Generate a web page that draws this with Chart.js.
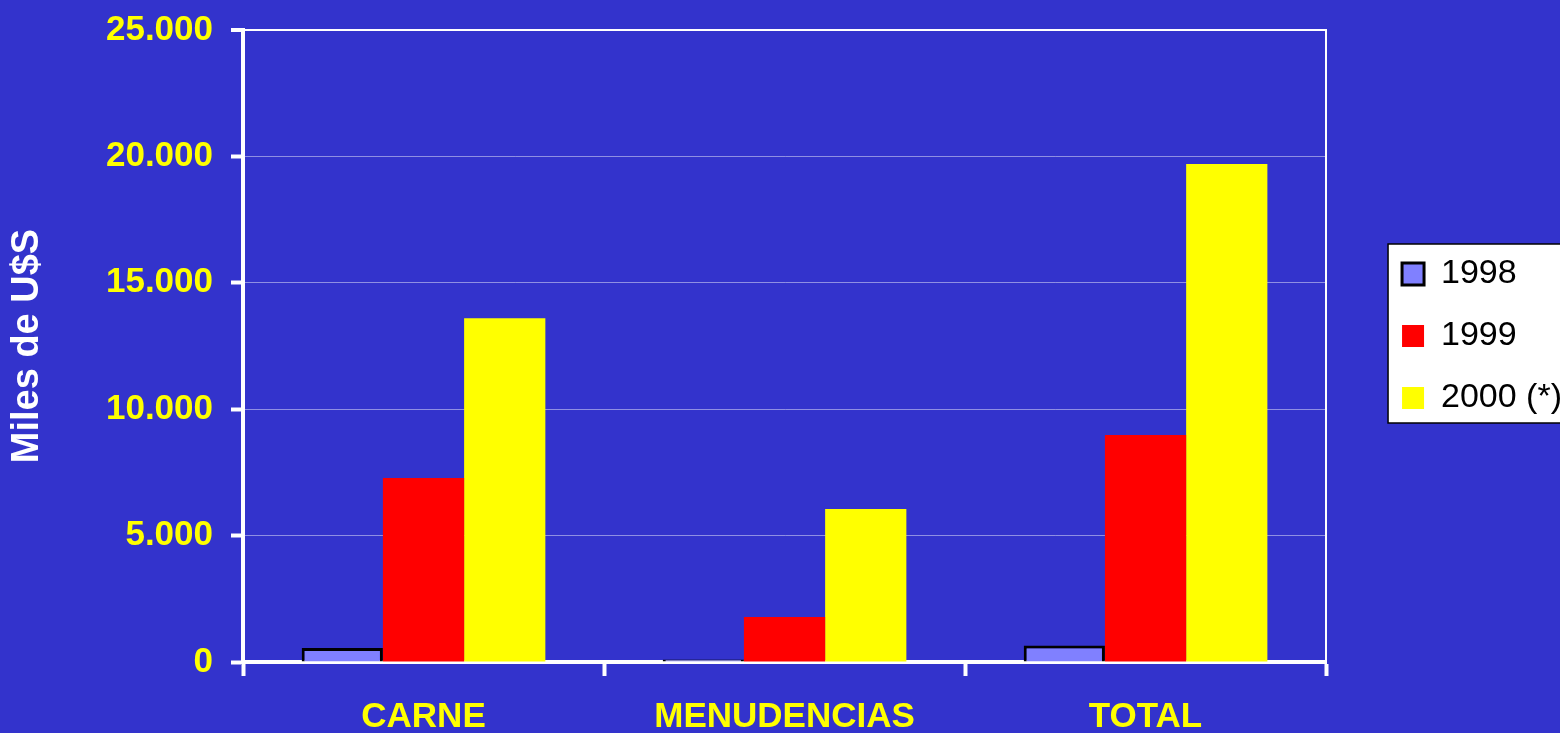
<!DOCTYPE html>
<html>
<head>
<meta charset="utf-8">
<script src="https://cdn.jsdelivr.net/npm/chart.js@4/dist/chart.umd.min.js"></script>
<style>
  html, body { margin: 0; padding: 0; background: #3333CC; overflow: hidden; width: 1560px; height: 733px; }
  canvas { display: block; background: #3333CC; }
</style>
</head>
<body>
<canvas id="c" width="1572" height="733"></canvas>
<script>
const categories = ['CARNE', 'MENUDENCIAS', 'TOTAL'];
const seriesNames = ['1998', '1999', '2000 (*)'];
const values1998 = [550, 100, 650];
const values1999 = [7280, 1780, 8980];
const values2000 = [13600, 6050, 19700];
const yTickValues = [0, 5000, 10000, 15000, 20000, 25000];
const yTickLabels = ['0', '5.000', '10.000', '15.000', '20.000', '25.000'];
const yTitle = 'Miles de U$S';

const FONT = '"Liberation Sans", Arial, sans-serif';

const legendBox = {
  id: 'legendBox',
  afterLayout(chart) {
    const l = chart.legend;
    l.top -= 10; l.bottom -= 10;
  },
  beforeDraw(chart) {
    const l = chart.legend;
    const hb = l.legendHitBoxes;
    if (!hb || !hb.length) return;
    const ctx = chart.ctx;
    const x = l.left + 14;
    const y = hb[0].top - 13;
    const last = hb[hb.length - 1];
    const y2 = last.top + last.height + 8;
    ctx.save();
    ctx.fillStyle = '#ffffff';
    ctx.fillRect(x, y, chart.width - x + 5, y2 - y);
    ctx.strokeStyle = '#000000';
    ctx.lineWidth = 1.5;
    ctx.strokeRect(x, y, chart.width - x + 5, y2 - y);
    ctx.restore();
  }
};

new Chart(document.getElementById('c'), {
  type: 'bar',
  data: {
    labels: categories,
    datasets: [
      { label: seriesNames[0], data: values1998, backgroundColor: '#8080FF', borderColor: '#000000', borderWidth: 3 },
      { label: seriesNames[1], data: values1999, backgroundColor: '#FF0000', borderWidth: 0 },
      { label: seriesNames[2], data: values2000, backgroundColor: '#FFFF00', borderWidth: 0 }
    ]
  },
  options: {
    responsive: false,
    devicePixelRatio: 1,
    animation: false,
    categoryPercentage: 0.675,
    barPercentage: 1.0,
    layout: { padding: { top: 30, left: 0, right: 0, bottom: 0 } },
    plugins: {
      tooltip: { enabled: false },
      legend: {
        position: 'right',
        fullSize: false,
        labels: {
          boxWidth: 22,
          boxHeight: 22,
          padding: 28,
          color: '#000000',
          font: { family: FONT, size: 34 }
        }
      }
    },
    scales: {
      x: {
        grid: { display: true, drawOnChartArea: false, drawTicks: true, tickLength: 14, tickColor: '#ffffff', tickWidth: 4, offset: true },
        border: { color: '#ffffff', width: 4 },
        ticks: { color: '#FFFF00', font: { family: FONT, size: 35, weight: 'bold' }, padding: 20, maxRotation: 0, autoSkip: false },
        afterFit: s => { s.height = 71; s.paddingLeft = 0; s.paddingRight = 0; }
      },
      y: {
        min: 0,
        max: 25000,
        afterBuildTicks: s => { s.ticks = yTickValues.map(v => ({ value: v })); },
        grid: {
          color: c => (c.tick && c.tick.value === 25000) ? '#ffffff' : 'rgba(255,255,255,0.45)',
          lineWidth: c => (c.tick && c.tick.value === 25000) ? 2 : 1,
          tickColor: '#ffffff',
          tickLength: 12,
          tickWidth: 4
        },
        border: { color: '#ffffff', width: 4 },
        ticks: {
          color: '#FFFF00',
          font: { family: FONT, size: 35, weight: 'bold' },
          padding: 18,
          callback: (v, i) => yTickLabels[i]
        },
        title: {
          display: true,
          text: yTitle,
          color: '#ffffff',
          font: { family: FONT, size: 38, weight: 'bold' },
          padding: { top: 5, bottom: 0 }
        },
        afterFit: s => { s.width = 243; s.paddingTop = 0; s.paddingBottom = 0; }
      },
      y2: {
        type: 'linear',
        position: 'right',
        display: true,
        grid: { display: false, drawTicks: false },
        ticks: { display: false },
        border: { color: '#ffffff', width: 2 },
        afterFit: s => { s.width = 48; s.paddingTop = 0; s.paddingBottom = 0; }
      }
    }
  },
  plugins: [legendBox]
});
</script>
</body>
</html>
